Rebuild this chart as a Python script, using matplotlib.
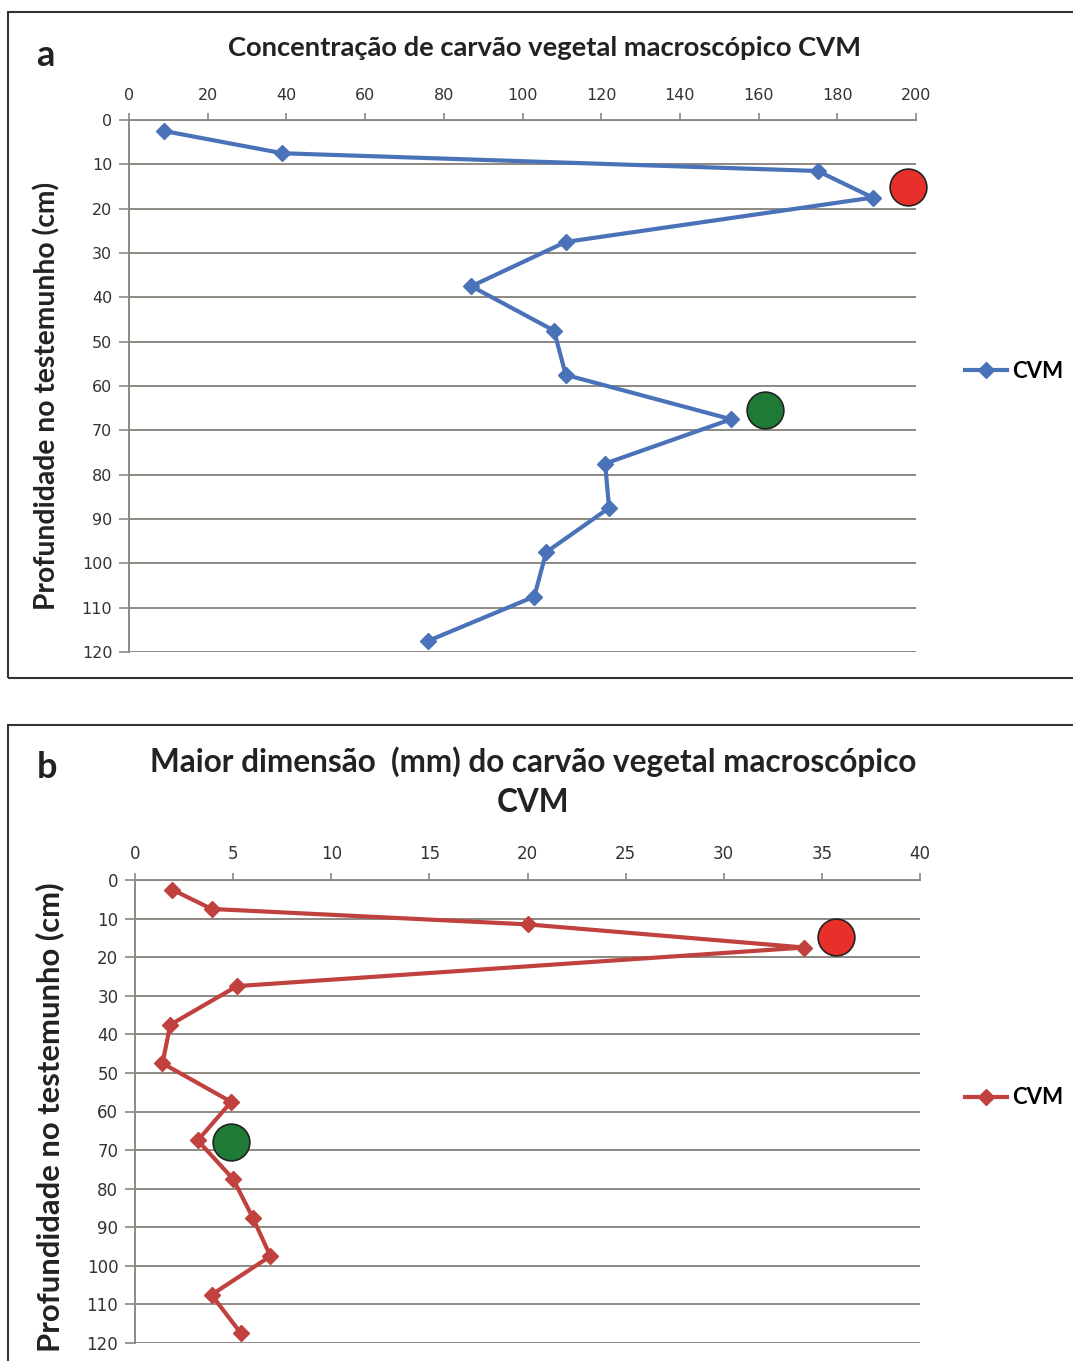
import matplotlib
matplotlib.use("Agg")
import matplotlib.pyplot as plt
from matplotlib.patches import Rectangle

# profundidade (cm) de cada amostra
depth = [2.5, 7.5, 11.5, 17.5, 27.5, 37.5, 47.5, 57.5, 67.5, 77.5, 87.5, 97.5, 107.5, 117.5]

# a: concentracao de CVM
conc = [9, 39, 175, 189, 111, 87, 108, 111, 153, 121, 122, 106, 103, 76]
# b: maior dimensao (mm)
dim = [1.9, 3.9, 20, 34.1, 5.2, 1.8, 1.4, 4.9, 3.2, 5.0, 6.0, 6.9, 3.9, 5.4]

# circulos destacados (x, profundidade)
conc_red = (198, 15)
conc_green = (161.5, 65.5)
dim_red = (35.7, 14.8)
dim_green = (4.9, 67.9)

conc_ticks = list(range(0, 201, 20))
dim_ticks = list(range(0, 41, 5))
depth_ticks = list(range(0, 121, 10))

W, H = 1073, 1361
fig = plt.figure(figsize=(W / 100, H / 100), dpi=100)

grid_col = "#8e8883"
bold_font = "Lato"


def fx(px):
    return px / W


def fy(py):
    return 1 - py / H


def draw_panel(ax, xs, color, xticks, xmax, red, green, tick_fs):
    ax.plot(xs, depth, color=color, lw=3.0, marker="D", markersize=8,
            label="CVM", zorder=3)
    ax.scatter([red[0]], [red[1]], s=700, color="#e8302a", edgecolor="#222222",
               linewidth=1.2, zorder=4, clip_on=False)
    ax.scatter([green[0]], [green[1]], s=700, color="#1e7a35", edgecolor="#222222",
               linewidth=1.2, zorder=4, clip_on=False)
    ax.set_xlim(0, xmax)
    ax.set_ylim(120, 0)
    ax.set_xticks(xticks)
    ax.set_yticks(depth_ticks)
    ax.xaxis.tick_top()
    ax.tick_params(axis="x", direction="out", length=5, width=1.2, color=grid_col,
                   labelsize=tick_fs, labelcolor="#333333", pad=7)
    ax.tick_params(axis="y", direction="out", length=7, width=1.2, color=grid_col,
                   labelsize=tick_fs, labelcolor="#333333", pad=5)
    ax.grid(axis="y", color=grid_col, lw=1.4)
    ax.set_axisbelow(True)
    for s in ["right", "bottom"]:
        ax.spines[s].set_visible(False)
    for s in ["left", "top"]:
        ax.spines[s].set_color(grid_col)
        ax.spines[s].set_linewidth(1.4)


# ---- painel a
axa = fig.add_axes([fx(129), fy(652), fx(916 - 129), (652 - 120) / H])
draw_panel(axa, conc, "#4a72b8", conc_ticks, 200, conc_red, conc_green, 11.5)
fig.patches.append(Rectangle((fx(8), fy(678)), 1.2, (678 - 12) / H, fill=False,
                             edgecolor="#333333", lw=1.5, transform=fig.transFigure))
fig.text(fx(45), fy(55), "a", fontsize=26, fontweight="bold", family=bold_font,
         ha="center", va="center", color="#222222")
fig.text(fx(545), fy(48), "Concentração de carvão vegetal macroscópico CVM",
         fontsize=19.7, fontweight="bold", family=bold_font, ha="center", va="center",
         color="#222222")
fig.text(fx(47), fy(396), "Profundidade no testemunho (cm)", fontsize=20.3,
         fontweight="bold", family=bold_font, rotation=90, ha="center", va="center",
         color="#222222")
axa.legend(loc="center left", bbox_to_anchor=(fx(965), fy(371)),
           bbox_transform=fig.transFigure, frameon=False, borderpad=0,
           borderaxespad=0, handlelength=1.9, handletextpad=0.2,
           prop={"family": bold_font, "weight": "bold", "size": 16})

# ---- painel b
axb = fig.add_axes([fx(135), fy(1343), fx(920 - 135), (1343 - 880) / H])
draw_panel(axb, dim, "#c0413d", dim_ticks, 40, dim_red, dim_green, 12)
fig.patches.append(Rectangle((fx(8), fy(1400)), 1.2, (1400 - 725) / H, fill=False,
                             edgecolor="#333333", lw=1.5, transform=fig.transFigure))
fig.text(fx(47), fy(768), "b", fontsize=26, fontweight="bold", family=bold_font,
         ha="center", va="center", color="#222222")
fig.text(fx(533), fy(782), "Maior dimensão  (mm) do carvão vegetal macroscópico\nCVM",
         fontsize=22.7, fontweight="bold", family=bold_font, ha="center", va="center",
         color="#222222", linespacing=1.45)
fig.text(fx(50), fy(1117), "Profundidade no testemunho (cm)", fontsize=22.3,
         fontweight="bold", family=bold_font, rotation=90, ha="center", va="center",
         color="#222222")
axb.legend(loc="center left", bbox_to_anchor=(fx(965), fy(1098)),
           bbox_transform=fig.transFigure, frameon=False, borderpad=0,
           borderaxespad=0, handlelength=1.9, handletextpad=0.2,
           prop={"family": bold_font, "weight": "bold", "size": 16})

fig.savefig("out.png", dpi=100)
